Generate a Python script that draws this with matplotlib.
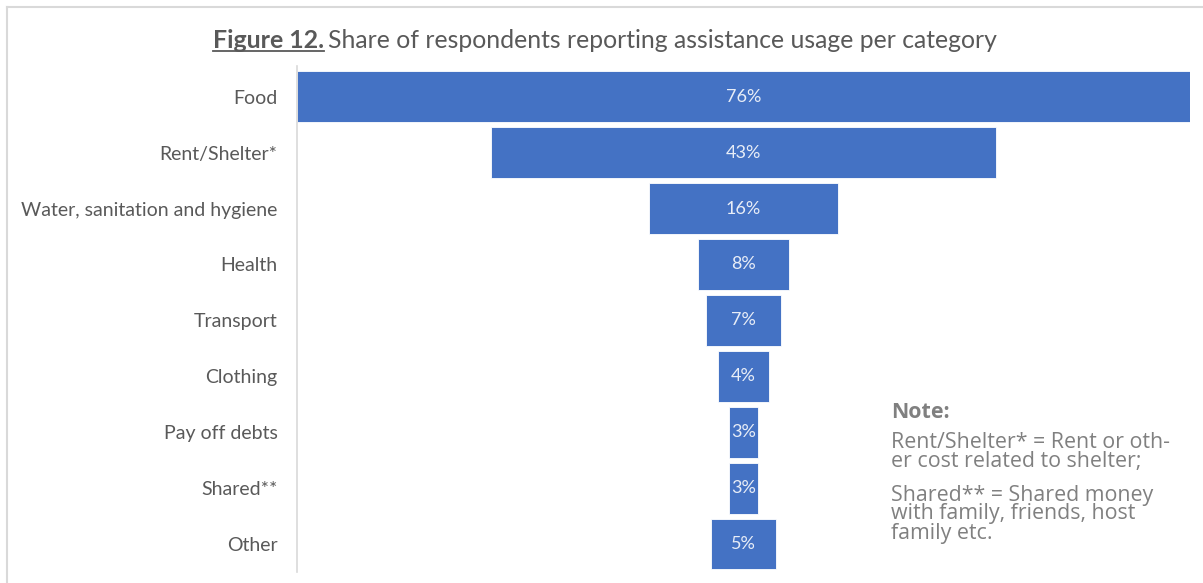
import matplotlib
matplotlib.use("Agg")
import matplotlib.pyplot as plt
from matplotlib.lines import Line2D
from matplotlib import font_manager

categories = ["Food", "Rent/Shelter*", "Water, sanitation and hygiene", "Health",
              "Transport", "Clothing", "Pay off debts", "Shared**", "Other"]
values = [76, 43, 16.1, 7.7, 6.4, 4.3, 2.5, 2.5, 5.5]
value_labels = ["76%", "43%", "16%", "8%", "7%", "4%", "3%", "3%", "5%"]

W, H = 1203, 583
fig = plt.figure(figsize=(W / 100, H / 100), dpi=100)
fig.patch.set_facecolor("white")

def fx(px):
    return px / W

def fy(py):
    return 1 - py / H

# find Open Sans by name
names = sorted({f.name for f in font_manager.fontManager.ttflist})
note_font = "Open Sans"
for nm in names:
    if nm.lower().replace(" ", "") == "opensans":
        note_font = nm
        break
else:
    for nm in names:
        if "open sans" in nm.lower():
            note_font = nm
            break

# outer light border (top and left)
fig.add_artist(Line2D([fx(7), fx(1203)], [fy(7), fy(7)], color="#d9d9d9", lw=1.5))
fig.add_artist(Line2D([fx(7), fx(7)], [fy(7), fy(583)], color="#d9d9d9", lw=1.5))

ax_left, ax_right = 297, 1190
ax_top, ax_bot = 66, 572
ax = fig.add_axes([fx(ax_left), fy(ax_bot), fx(ax_right - ax_left), (ax_bot - ax_top) / H])

n = len(categories)
ypos = list(range(n))
half = max(values) / 2
lefts = [-v / 2 for v in values]
ax.barh(ypos, values, left=lefts, height=0.91, color="#4472C4", edgecolor="white", linewidth=0.6)
for y, lab in zip(ypos, value_labels):
    ax.text(0, y, lab, ha="center", va="center", color="#e8edf7", fontsize=13, family="Lato")

ax.set_xlim(-half, half)
ax.set_ylim(n - 0.5, -0.55)
ax.set_yticks(ypos)
ax.set_yticklabels(categories, fontsize=14.0, family="Lato", color="#595959")
ax.tick_params(axis="y", length=0, pad=14)
ax.set_xticks([])
for s in ["top", "right", "bottom"]:
    ax.spines[s].set_visible(False)
ax.spines["left"].set_color("#d9d9d9")
ax.spines["left"].set_linewidth(1.2)

# title
t1 = fig.text(fx(213), fy(40), "Figure 12.", fontsize=17.9, family="Lato", fontweight="bold",
              color="#595959", va="center", ha="left")
fig.canvas.draw()
bb = t1.get_window_extent()
fig.add_artist(Line2D([bb.x0 / W, bb.x1 / W], [fy(51), fy(51)], color="#595959", lw=1.3))
t2 = fig.text(bb.x1 / W + 4 / W, fy(40), "Share of respondents reporting assistance usage per category",
              fontsize=17.9, family="Lato", color="#595959", va="center", ha="left")
fig.canvas.draw()
b2 = t2.get_window_extent()
t2.set_fontsize(t2.get_fontsize() * (997 - b2.x0) / b2.width)

# note
note_color = "#808080"
nt = fig.text(fx(891), fy(413), "Note:", fontsize=13, family=note_font, fontweight="bold",
              color=note_color, va="center", ha="left")
note_lines = [("Rent/Shelter* = Rent or oth-", 442), ("er cost related to shelter;", 461),
              ("Shared** = Shared money", 495), ("with family, friends, host", 514),
              ("family etc.", 533)]
texts = []
for txt, yy in note_lines:
    texts.append(fig.text(fx(891), fy(yy), txt, fontsize=13, family=note_font, color=note_color,
                          va="center", ha="left"))
fig.canvas.draw()
scale = 277 / texts[0].get_window_extent().width
for t in texts + [nt]:
    t.set_fontsize(t.get_fontsize() * scale)

fig.savefig("out.png", dpi=100, facecolor="white")
